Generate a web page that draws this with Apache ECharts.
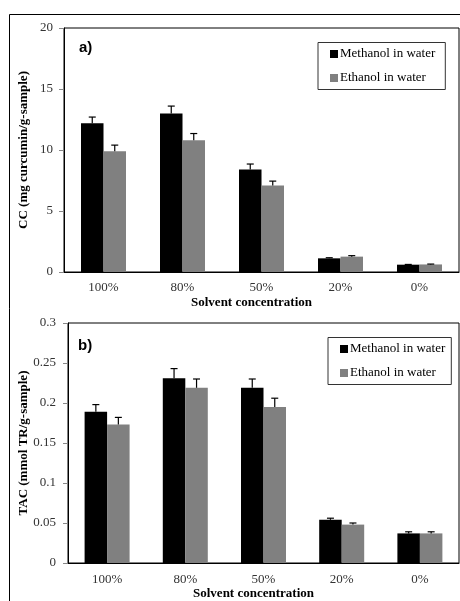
<!DOCTYPE html>
<html>
<head>
<meta charset="utf-8">
<script src="https://cdn.jsdelivr.net/npm/echarts@6/dist/echarts.min.js"></script>
<style>
html,body{margin:0;padding:0;background:#fff;}
#chart{width:460px;height:601px;}
</style>
</head>
<body>
<div id="chart"></div>
<script>
// ---- data ----
var categories = ['100%', '80%', '50%', '20%', '0%'];
var seriesNames = ['Methanol in water', 'Ethanol in water'];
// panel a) CC (mg curcumin/g-sample)
var ccMethanol = [12.2, 13.0, 8.4, 1.12, 0.6];
var ccMethanolErr = [0.5, 0.6, 0.45, 0.05, 0.02];
var ccEthanol = [9.9, 10.8, 7.1, 1.26, 0.62];
var ccEthanolErr = [0.5, 0.55, 0.35, 0.08, 0.03];
var ccTicks = [0, 5, 10, 15, 20];
// panel b) TAC (mmol TR/g-sample)
var tacMethanol = [0.189, 0.231, 0.219, 0.054, 0.037];
var tacMethanolErr = [0.009, 0.012, 0.011, 0.002, 0.002];
var tacEthanol = [0.173, 0.219, 0.195, 0.048, 0.037];
var tacEthanolErr = [0.009, 0.011, 0.011, 0.002, 0.002];
var tacTicks = [0, 0.05, 0.1, 0.15, 0.2, 0.25, 0.3];

// ---- chart ----
var SERIF = '"Liberation Serif", "Times New Roman", serif';
var SANS = '"Liberation Sans", Arial, sans-serif';
var BAR_W = 22.5;

function errData(vals, errs) {
  return vals.map(function (v, i) { return [i, v, errs[i]]; });
}
function errRender(side) {
  return function (params, api) {
    var i = api.value(0), v = api.value(1), e = api.value(2);
    var base = api.coord([i, v]);
    var top = api.coord([i, v + e]);
    var x = base[0] + side * BAR_W / 2;
    var cap = 3.5;
    var st = { stroke: '#000', lineWidth: 1.2 };
    return {
      type: 'group',
      children: [
        { type: 'line', shape: { x1: x, y1: base[1], x2: x, y2: top[1] }, style: st },
        { type: 'line', shape: { x1: x - cap, y1: top[1], x2: x + cap, y2: top[1] }, style: st }
      ]
    };
  };
}

function xAxisCfg(gridIndex, margin) {
  return {
    type: 'category', gridIndex: gridIndex, data: categories,
    axisLine: { show: true, lineStyle: { color: '#000', width: 1 } },
    axisTick: { show: false },
    axisLabel: { margin: margin, fontFamily: SERIF, fontSize: 13, color: '#333' },
    name: 'Solvent concentration', nameLocation: 'middle', nameGap: 24, nameMoveOverlap: false,
    nameTextStyle: { fontFamily: SERIF, fontSize: 13, fontWeight: 'bold', color: '#000', padding: [0, 20, 0, 0] }
  };
}
function yAxisCfg(gridIndex, ticks, name, nameGap, margin, fmt) {
  return {
    type: 'value', gridIndex: gridIndex,
    min: ticks[0], max: ticks[ticks.length - 1], interval: ticks[1] - ticks[0],
    splitLine: { show: false },
    axisLine: { show: true, lineStyle: { color: '#000', width: 1 } },
    axisTick: { show: true, length: 5, lineStyle: { color: '#888' } },
    axisLabel: { margin: margin, fontFamily: SERIF, fontSize: 13, color: '#333', formatter: fmt },
    name: name, nameLocation: 'middle', nameGap: nameGap, nameRotate: 90, nameMoveOverlap: false,
    nameTextStyle: { fontFamily: SERIF, fontSize: 13, fontWeight: 'bold', color: '#000' }
  };
}
function legendCfg(left, top, padRight) {
  return {
    data: seriesNames, orient: 'vertical', left: left, top: top,
    icon: 'rect', itemWidth: 8, itemHeight: 8, itemGap: 11,
    padding: [5, padRight, 5, 12],
    borderColor: '#333', borderWidth: 1, backgroundColor: '#fff',
    textStyle: { fontFamily: SERIF, fontSize: 13, color: '#000', padding: [0, 0, 0, -3] }
  };
}

var chart = echarts.init(document.getElementById('chart'), null, { renderer: 'canvas' });
var option = {
  animation: false,
  backgroundColor: '#fff',
  grid: [
    { left: 64, top: 28, width: 395, height: 244, show: true, borderColor: '#000', borderWidth: 1, backgroundColor: 'transparent' },
    { left: 68, top: 323, width: 391, height: 245, show: true, borderColor: '#000', borderWidth: 1, backgroundColor: 'transparent' }
  ],
  xAxis: [xAxisCfg(0, 9), xAxisCfg(1, 10)],
  yAxis: [
    yAxisCfg(0, ccTicks, 'CC (mg curcumin/g-sample)', 34, 11, function (v) { return String(v); }),
    yAxisCfg(1, tacTicks, 'TAC (mmol TR/g-sample)', 38, 12, function (v) { return String(+v.toFixed(2)); })
  ],
  legend: [legendCfg(318, 42.5, 10), legendCfg(328, 337.5, 6)],
  series: [
    { name: seriesNames[0], type: 'bar', xAxisIndex: 0, yAxisIndex: 0, data: ccMethanol, barWidth: BAR_W, barGap: '0%', itemStyle: { color: '#000' } },
    { name: seriesNames[1], type: 'bar', xAxisIndex: 0, yAxisIndex: 0, data: ccEthanol, barWidth: BAR_W, barGap: '0%', itemStyle: { color: '#808080' } },
    { name: seriesNames[0], type: 'bar', xAxisIndex: 1, yAxisIndex: 1, data: tacMethanol, barWidth: BAR_W, barGap: '0%', itemStyle: { color: '#000' } },
    { name: seriesNames[1], type: 'bar', xAxisIndex: 1, yAxisIndex: 1, data: tacEthanol, barWidth: BAR_W, barGap: '0%', itemStyle: { color: '#808080' } },
    { type: 'custom', xAxisIndex: 0, yAxisIndex: 0, data: errData(ccMethanol, ccMethanolErr), renderItem: errRender(-1), encode: { x: 0, y: 1 }, z: 3, silent: true },
    { type: 'custom', xAxisIndex: 0, yAxisIndex: 0, data: errData(ccEthanol, ccEthanolErr), renderItem: errRender(1), encode: { x: 0, y: 1 }, z: 3, silent: true },
    { type: 'custom', xAxisIndex: 1, yAxisIndex: 1, data: errData(tacMethanol, tacMethanolErr), renderItem: errRender(-1), encode: { x: 0, y: 1 }, z: 3, silent: true },
    { type: 'custom', xAxisIndex: 1, yAxisIndex: 1, data: errData(tacEthanol, tacEthanolErr), renderItem: errRender(1), encode: { x: 0, y: 1 }, z: 3, silent: true }
  ],
  graphic: [
    { type: 'rect', shape: { x: 9.5, y: 14.5, width: 600, height: 700 }, style: { fill: 'none', stroke: '#000', lineWidth: 1 }, z: -1 },
    { type: 'text', left: 79, top: 40, style: { text: 'a)', font: 'bold 15px ' + SANS, fill: '#000' } },
    { type: 'text', left: 78, top: 338, style: { text: 'b)', font: 'bold 15px ' + SANS, fill: '#000' } }
  ]
};
chart.setOption(option);
</script>
</body>
</html>
